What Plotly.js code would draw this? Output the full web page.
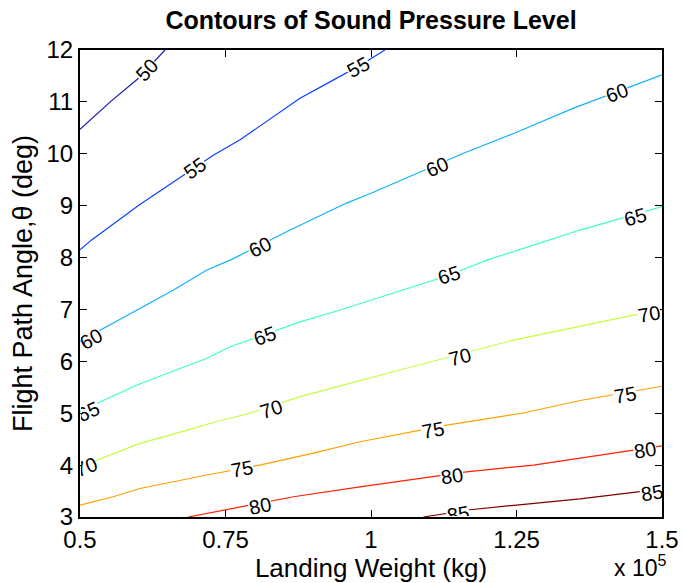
<!DOCTYPE html>
<html>
<head>
<meta charset="utf-8">
<script src="https://cdn.plot.ly/plotly-3.0.1.min.js"></script>
<style>html,body{margin:0;padding:0;background:#fff;}#chart{width:683px;height:583px;}</style>
</head>
<body>
<div id="chart"></div>
<script>
// ---- contour levels ----
const levels = [50, 55, 60, 65, 70, 75, 80, 85];

// ---- contour lines (x: landing weight /1e5 kg, y: flight path angle deg) ----
const c50x = [0.5, 0.552, 0.60, 0.646];
const c50y = [10.47, 11.0, 11.45, 12.0];

const c55x = [0.5, 0.52, 0.601, 0.66, 0.729, 0.775, 0.844, 0.878, 0.935, 0.978, 1.024];
const c55y = [8.15, 8.34, 9.01, 9.45, 9.97, 10.27, 10.81, 11.07, 11.42, 11.68, 12.0];

const c60x = [0.5, 0.529, 0.597, 0.660, 0.718, 0.758, 0.861, 0.958, 1.0, 1.159, 1.245, 1.348, 1.5];
const c60y = [6.39, 6.57, 6.99, 7.37, 7.76, 7.95, 8.53, 9.05, 9.24, 10.01, 10.39, 10.88, 11.52];

const c65x = [0.5, 0.529, 0.597, 0.718, 0.758, 0.878, 0.947, 1.134, 1.199, 1.279, 1.359, 1.5];
const c65y = [5.04, 5.19, 5.54, 6.06, 6.28, 6.76, 6.99, 7.66, 7.95, 8.24, 8.53, 8.98];

const c70x = [0.5, 0.529, 0.603, 0.686, 0.735, 0.792, 0.878, 0.952, 1.038, 1.245, 1.354, 1.451, 1.5];
const c70y = [3.97, 4.10, 4.42, 4.68, 4.84, 5.00, 5.32, 5.54, 5.80, 6.41, 6.67, 6.89, 6.99];

const c75x = [0.5, 0.557, 0.603, 0.718, 0.809, 0.901, 0.981, 1.130, 1.259, 1.362, 1.5];
const c75y = [3.23, 3.39, 3.55, 3.81, 4.00, 4.23, 4.45, 4.77, 5.00, 5.25, 5.52];

const c80x = [0.686, 0.752, 0.867, 0.981, 1.090, 1.164, 1.279, 1.439, 1.5];
const c80y = [3.0, 3.14, 3.39, 3.58, 3.75, 3.87, 4.0, 4.26, 4.37];

const c85x = [1.090, 1.170, 1.250, 1.359, 1.462, 1.5];
const c85y = [3.0, 3.14, 3.23, 3.35, 3.49, 3.56];

// ---- inline contour labels ----
const labelLevel = [50, 55, 55, 60, 60, 60, 60, 65, 65, 65, 65, 70, 70, 70, 70, 75, 75, 75, 80, 80, 80, 85, 85];
const labelX = [0.615, 0.698, 0.978, 0.519, 0.809, 1.113, 1.422, 0.513, 0.818, 1.134, 1.454, 0.510, 0.829, 1.153, 1.478, 0.778, 1.107, 1.436, 0.809, 1.139, 1.471, 1.150, 1.482];
const labelY = [11.61, 9.72, 11.68, 6.43, 8.20, 9.75, 11.17, 5.03, 6.48, 7.66, 8.79, 3.96, 5.09, 6.08, 6.92, 3.92, 4.68, 5.36, 3.22, 3.79, 4.29, 3.05, 3.46];

// ---- axis ticks ----
const xTickVals = [0.5, 0.75, 1, 1.25, 1.5];
const xTickText = ['0.5', '0.75', '1', '1.25', '1.5'];
const yTickVals = [3, 4, 5, 6, 7, 8, 9, 10, 11, 12];
const yTickText = ['3', '4', '5', '6', '7', '8', '9', '10', '11', '12'];

// ---- styles ----
const lineColors = ['#1a1ab0', '#0a40ff', '#12b0ff', '#40ffbf', '#c4ff40', '#ffa000', '#ff2000', '#800000'];
const FONT = 'Liberation Sans, Arimo, Arial, Helvetica, sans-serif';
const W = 683, H = 583;
const M = {l: 80, r: 21, t: 50, b: 66};
const plotW = W - M.l - M.r, plotH = H - M.t - M.b;
const xRange = [0.5, 1.5], yRange = [3, 12];

const lineX = [c50x, c55x, c60x, c65x, c70x, c75x, c80x, c85x];
const lineY = [c50y, c55y, c60y, c65y, c70y, c75y, c80y, c85y];

const traces = levels.map((lv, i) => ({
  type: 'scatter', mode: 'lines', x: lineX[i], y: lineY[i],
  name: String(lv), line: {color: lineColors[i], width: 1.2}, hoverinfo: 'skip'
}));

function angleAt(xs, ys, x) {
  let i = 0;
  while (i < xs.length - 2 && x > xs[i + 1]) i++;
  const slope = (ys[i + 1] - ys[i]) / (xs[i + 1] - xs[i]);
  const pix = slope * (plotH / (yRange[1] - yRange[0])) / (plotW / (xRange[1] - xRange[0]));
  return -Math.atan(pix) * 180 / Math.PI;
}

const annotations = labelLevel.map((lv, k) => {
  const i = levels.indexOf(lv);
  return {
    x: labelX[k], y: labelY[k], xref: 'x', yref: 'y', text: String(lv), showarrow: false,
    textangle: angleAt(lineX[i], lineY[i], labelX[k]),
    font: {family: FONT, size: 20, color: '#000'}, bgcolor: '#fff', borderpad: 0
  };
});
annotations.push({
  xref: 'paper', yref: 'paper', x: 1.01, y: -0.105, xanchor: 'right', yanchor: 'middle',
  text: 'x 10<sup>5</sup>', showarrow: false, font: {family: FONT, size: 23, color: '#000'}
});

const axisCommon = {
  showgrid: false, zeroline: false, showline: true, linecolor: '#000', linewidth: 2,
  mirror: 'ticks', ticks: 'inside', ticklen: 7, tickwidth: 1, tickcolor: '#000',
  tickfont: {family: FONT, size: 24, color: '#000'}
};

const layout = {
  width: W, height: H, margin: M, showlegend: false,
  paper_bgcolor: '#fff', plot_bgcolor: '#fff',
  title: {text: '<b>Contours of Sound Pressure Level</b>', x: 0.5, xref: 'paper',
          y: 1 - 20 / H, yref: 'container', yanchor: 'middle',
          font: {family: FONT, size: 25, color: '#000'}},
  xaxis: Object.assign({}, axisCommon, {range: xRange, tickvals: xTickVals, ticktext: xTickText,
          title: {text: 'Landing Weight (kg)', standoff: 3, font: {family: FONT, size: 26, color: '#000'}}}),
  yaxis: Object.assign({}, axisCommon, {range: yRange, tickvals: yTickVals, ticktext: yTickText,
          title: {text: 'Flight Path Angle,θ (deg)', standoff: 6, font: {family: FONT, size: 27, color: '#000'}}}),
  annotations: annotations
};

const gd = document.getElementById('chart');
Plotly.newPlot(gd, traces, layout, {staticPlot: true, displayModeBar: false}).then(() => {
  // clip the inline contour labels to the plotting area, like the original
  const info = gd._fullLayout._infolayer.node();
  const svg = info.ownerSVGElement;
  const NS = 'http://www.w3.org/2000/svg';
  let defs = svg.querySelector('defs');
  if (!defs) { defs = document.createElementNS(NS, 'defs'); svg.insertBefore(defs, svg.firstChild); }
  const cp = document.createElementNS(NS, 'clipPath');
  cp.setAttribute('id', 'lblclip');
  const r = document.createElementNS(NS, 'rect');
  r.setAttribute('x', M.l + 1); r.setAttribute('y', M.t);
  r.setAttribute('width', plotW - 1); r.setAttribute('height', plotH - 1);
  cp.appendChild(r); defs.appendChild(cp);
  info.querySelectorAll('g.annotation').forEach(g => {
    const idx = +g.getAttribute('data-index');
    if (idx < labelLevel.length) g.setAttribute('clip-path', 'url(#lblclip)');
  });
});
</script>
</body>
</html>
